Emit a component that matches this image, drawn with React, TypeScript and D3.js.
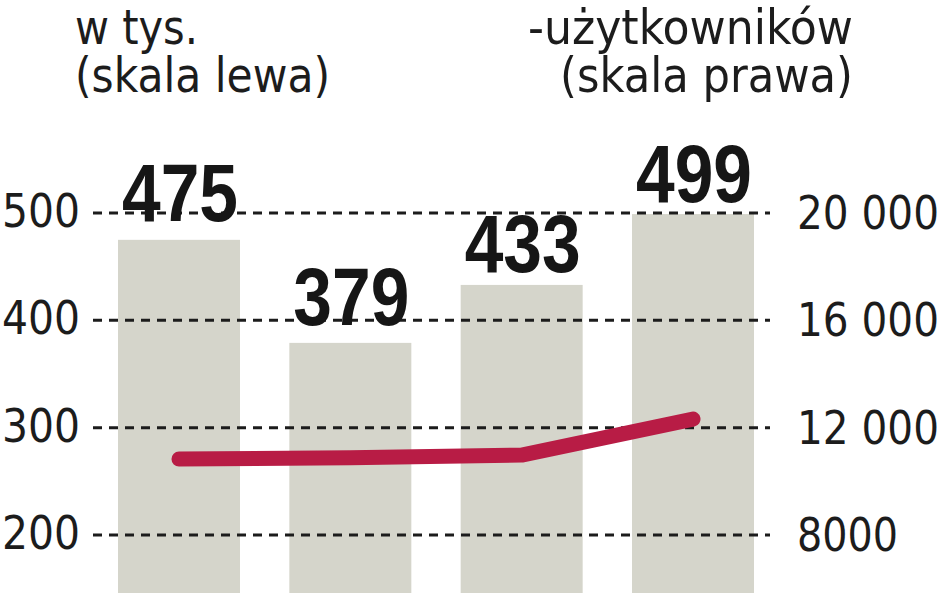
import React from "react";
import * as d3 from "d3";

const categories = ["I", "II", "III", "IV"];
const barValues = [475, 379, 433, 499];
const lineValues = [10830, 10880, 10980, 12320];
const leftTicks = [200, 300, 400, 500];
const rightTicks = [8000, 12000, 16000, 20000];
const rightTickLabels = ["8000", "12 000", "16 000", "20 000"];
const titleLeft = ["w tys.", "(skala lewa)"];
const titleRight = ["-użytkowników", "(skala prawa)"];

const W = 948;
const H = 593;

export default function App() {
  const x = d3
    .scaleBand<string>()
    .domain(categories)
    .range([118, 754])
    .paddingInner(0.288)
    .paddingOuter(0);
  const yL = d3.scaleLinear().domain([0, 500]).range([749.7, 213]);
  const yR = d3.scaleLinear().domain([0, 20000]).range([749.7, 213]);

  const line = d3
    .line<number>()
    .x((_, i) => (x(categories[i]) as number) + x.bandwidth() / 2)
    .y((d) => yR(d))
    .curve(d3.curveLinear);

  const labelNudge = [19, 18, 13, 12];
  const condensed = "'DejaVu Sans Condensed', 'DejaVu Sans', sans-serif";
  const narrow = "'Liberation Sans Narrow', 'Liberation Sans', sans-serif";
  const ink = "#1c1c1c";

  return (
    <svg
      width={W}
      height={H}
      viewBox={`0 0 ${W} ${H}`}
      style={{ position: "absolute", left: 0, top: 0, background: "#fff" }}
    >
      {/* titles */}
      <g fill={ink} fontFamily={condensed} fontSize={48}>
        <text x={75} y={44} textLength={123} lengthAdjust="spacingAndGlyphs">
          {titleLeft[0]}
        </text>
        <text x={75} y={92} textLength={255} lengthAdjust="spacingAndGlyphs">
          {titleLeft[1]}
        </text>
        <text x={528} y={44} textLength={325} lengthAdjust="spacingAndGlyphs">
          {titleRight[0]}
        </text>
        <text x={560} y={92} textLength={293} lengthAdjust="spacingAndGlyphs">
          {titleRight[1]}
        </text>
      </g>

      {/* bars */}
      {barValues.map((v, i) => (
        <rect
          key={categories[i]}
          x={x(categories[i])}
          y={yL(v)}
          width={x.bandwidth()}
          height={yL(0) - yL(v)}
          fill="#d5d5cb"
        />
      ))}

      {/* gridlines */}
      {leftTicks.map((t) => (
        <line
          key={t}
          x1={93}
          x2={770}
          y1={yL(t)}
          y2={yL(t)}
          stroke={ink}
          strokeWidth={3}
          strokeDasharray="9 7"
        />
      ))}

      {/* tick labels */}
      <g fill={ink} fontFamily={condensed} fontSize={47}>
        {leftTicks.map((t) => (
          <text
            key={t}
            x={80}
            y={yL(t) + 14}
            textAnchor="end"
            textLength={78}
            lengthAdjust="spacingAndGlyphs"
          >
            {String(t)}
          </text>
        ))}
        {rightTicks.map((t, i) => {
          const lbl = rightTickLabels[i];
          return (
            <text
              key={t}
              x={797}
              y={yR(t) + 16}
              textLength={lbl.length === 4 ? 101 : 142}
              lengthAdjust="spacingAndGlyphs"
            >
              {lbl}
            </text>
          );
        })}
      </g>

      {/* line */}
      <path
        d={line(lineValues) || ""}
        fill="none"
        stroke="#b81c45"
        strokeWidth={15}
        strokeLinecap="round"
        strokeLinejoin="round"
      />

      {/* value labels */}
      <g fill="#161616" fontFamily={narrow} fontWeight="bold" fontSize={82}>
        {barValues.map((v, i) => {
          const cx = (x(categories[i]) as number) + x.bandwidth() / 2;
          return (
            <text
              key={categories[i]}
              x={cx - 57}
              y={yL(v) - labelNudge[i]}
              textLength={116}
              lengthAdjust="spacingAndGlyphs"
            >
              {String(v)}
            </text>
          );
        })}
      </g>
    </svg>
  );
}
